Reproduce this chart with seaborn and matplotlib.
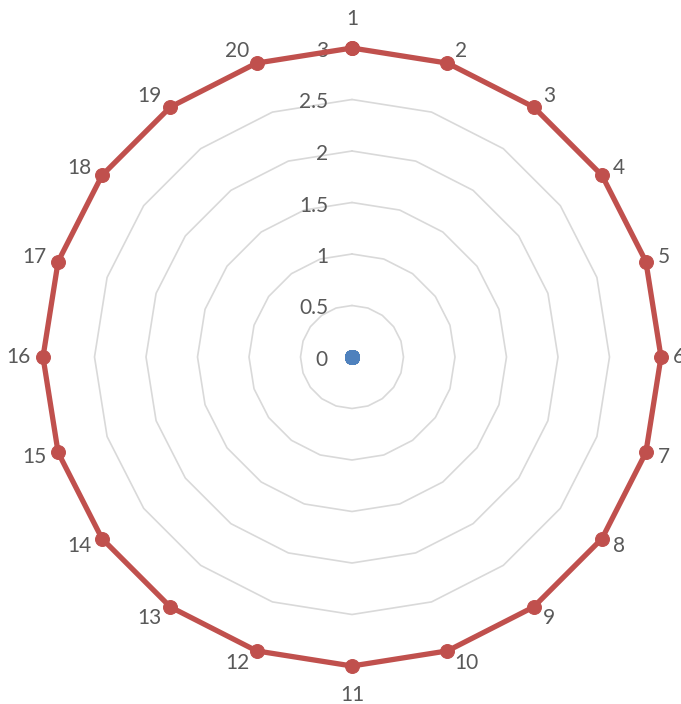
import numpy as np
import pandas as pd
import seaborn as sns
import matplotlib.pyplot as plt

# data
categories = [str(i) for i in range(1, 21)]
series_red = [3] * 20
series_blue = [0] * 20
grid_levels = [0.5, 1, 1.5, 2, 2.5, 3]
radial_labels = ['0', '0.5', '1', '1.5', '2', '2.5', '3']
radial_values = [0, 0.5, 1, 1.5, 2, 2.5, 3]

sns.set_style('white')
plt.rcParams['font.family'] = ['Lato', 'DejaVu Sans']

n = len(categories)
theta = np.linspace(0, 2 * np.pi, n, endpoint=False)
theta_closed = np.append(theta, 2 * np.pi)

df_red = pd.DataFrame({'theta': theta_closed, 'value': series_red + series_red[:1]})
df_blue = pd.DataFrame({'theta': theta_closed, 'value': series_blue + series_blue[:1]})

fig = plt.figure(figsize=(6.81, 7.04), dpi=100)
ax = fig.add_axes([43 / 681, 38 / 704, 618 / 681, 618 / 704], projection='polar')
ax.set_theta_offset(np.pi / 2)
ax.set_theta_direction(-1)
ax.set_ylim(0, 3)
ax.grid(False)
ax.spines['polar'].set_visible(False)
ax.set_xticks([])
ax.set_yticks([])
ax.patch.set_alpha(0)

# polygon gridlines
for lv in grid_levels:
    ax.plot(theta_closed, [lv] * (n + 1), color='#d9d9d9', lw=1.2, zorder=1, clip_on=False)

sns.lineplot(data=df_red, x='theta', y='value', ax=ax, color='#c0504d', lw=3.8,
             marker='o', markersize=10, markeredgecolor='#c0504d', sort=False,
             clip_on=False, zorder=3)
sns.lineplot(data=df_blue, x='theta', y='value', ax=ax, color='#4f81bd', lw=3.8,
             marker='o', markersize=10, markeredgecolor='#4f81bd', sort=False,
             clip_on=False, zorder=4)
ax.set_xlabel('')
ax.set_ylabel('')

# category labels, placed like Excel does (edge anchored beside the point)
for t, lab in zip(theta, categories):
    s, c = np.sin(t), np.cos(t)
    if abs(s) < 1e-6:
        off, ha = (0, 29 * np.sign(c)), 'center'
    else:
        off = (np.sign(s) * (5 + 7 * abs(s)), 13 * c)
        ha = 'left' if s > 0 else 'right'
    ax.annotate(lab, xy=(t, 3), xytext=off, textcoords='offset pixels',
                ha=ha, va='center', fontsize=15, color='#595959',
                annotation_clip=False)

# radial value labels
for v, lab in zip(radial_values, radial_labels):
    ax.annotate(lab, xy=(0, v), xytext=(-24, -3), textcoords='offset pixels',
                ha='right', va='center', fontsize=15, color='#595959',
                annotation_clip=False, zorder=2)

fig.savefig('out.png', dpi=100)
